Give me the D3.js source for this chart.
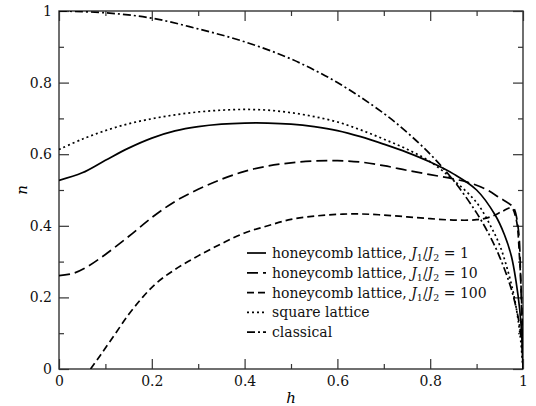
<!DOCTYPE html>
<html>
<head>
<meta charset="utf-8">
<script src="https://cdn.jsdelivr.net/npm/d3@7"></script>
<style>
  body { margin: 0; background: #fff; }
  svg { display: block; }
</style>
</head>
<body>
<div id="chart"></div>
<script>
// Curves, as [h, n] pairs.
var honeyJ1 = [[0,0.527],[0.05,0.548],[0.1,0.583],[0.15,0.617],[0.2,0.645],[0.25,0.665],
    [0.3,0.677],[0.35,0.684],[0.4,0.687],[0.45,0.687],[0.5,0.684],[0.55,0.677],[0.6,0.666],
    [0.65,0.649],[0.7,0.628],[0.75,0.605],[0.8,0.578],[0.85,0.545],[0.9,0.5],[0.94,0.43],
    [0.96,0.375],[0.975,0.315],[0.985,0.245],[0.993,0.165],[0.998,0.08],[1,0]];

var honeyJ10 = [[0,0.261],[0.03,0.267],[0.06,0.285],[0.1,0.32],[0.15,0.37],[0.2,0.423],
    [0.25,0.468],[0.3,0.502],[0.35,0.53],[0.4,0.552],[0.45,0.567],[0.5,0.576],[0.55,0.581],
    [0.6,0.582],[0.65,0.578],[0.7,0.568],[0.75,0.555],[0.8,0.543],[0.85,0.531],[0.88,0.522],
    [0.92,0.502],[0.95,0.478],[0.97,0.462],[0.98,0.45],[0.99,0.39],[0.995,0.25],[1,0]];

var honeyJ100 = [[0.068,0],[0.09,0.04],[0.12,0.096],[0.15,0.152],[0.18,0.2],[0.21,0.24],
    [0.25,0.278],[0.3,0.316],[0.35,0.35],[0.4,0.38],[0.45,0.4],[0.5,0.418],[0.55,0.427],
    [0.6,0.432],[0.65,0.433],[0.7,0.43],[0.75,0.425],[0.8,0.42],[0.85,0.416],[0.9,0.417],
    [0.93,0.425],[0.955,0.44],[0.975,0.45],[0.985,0.42],[0.993,0.3],[0.998,0.15],[1,0]];

var squareLattice = [[0,0.613],[0.05,0.642],[0.1,0.666],[0.15,0.685],[0.2,0.699],[0.25,0.71],
    [0.3,0.718],[0.35,0.723],[0.4,0.725],[0.45,0.723],[0.5,0.716],[0.55,0.705],[0.6,0.69],
    [0.65,0.668],[0.7,0.642],[0.75,0.614],[0.8,0.579],[0.85,0.528],[0.9,0.465],[0.93,0.4],
    [0.95,0.345],[0.965,0.285],[0.978,0.22],[0.988,0.15],[0.995,0.08],[1,0]];

var classical = [[0,1],[0.1,0.995],[0.2,0.98],[0.3,0.95],[0.4,0.914],[0.5,0.866],[0.6,0.8],
    [0.7,0.714],[0.75,0.661],[0.8,0.6],[0.85,0.527],[0.9,0.436],[0.93,0.368],[0.95,0.312],
    [0.97,0.243],[0.98,0.199],[0.99,0.141],[0.997,0.077],[1,0]];

var majorTicks = [0, 0.2, 0.4, 0.6, 0.8, 1];
var minorTicks = [0.1, 0.3, 0.5, 0.7, 0.9];
var tickLabels = ["0", "0.2", "0.4", "0.6", "0.8", "1"];

// Ratio values shown in the first three legend rows.
var legendRatios = ["1", "10", "100"];

var serif = "'DejaVu Serif', 'Liberation Serif', serif";

var width = 536, height = 406;
var margin = {top: 11, right: 13, bottom: 37, left: 59};

var svg = d3.select("#chart").append("svg")
    .attr("width", width)
    .attr("height", height)
    .attr("font-family", serif);

var x = d3.scaleLinear().domain([0, 1]).range([margin.left, width - margin.right]);
var y = d3.scaleLinear().domain([0, 1]).range([height - margin.bottom, margin.top]);

var fmt = function(d){ return tickLabels[majorTicks.indexOf(d)]; };

// Frame and axes with ticks pointing inward on all four sides.
function axisGroup(axis, tx, ty, labels){
    var g = svg.append("g")
        .attr("transform", "translate(" + tx + "," + ty + ")")
        .call(axis)
        .attr("font-family", serif)
        .attr("font-size", 14);
    g.select(".domain").remove();
    g.selectAll("line").attr("stroke", "#333").attr("stroke-width", 1.2);
    if (!labels) g.selectAll("text").remove();
    else g.selectAll("text").attr("fill", "#111");
    return g;
}

var bottom = height - margin.bottom, right = width - margin.right;

axisGroup(d3.axisBottom(x).tickValues(majorTicks).tickSize(-10).tickPadding(7).tickFormat(fmt), 0, bottom, true);
axisGroup(d3.axisBottom(x).tickValues(minorTicks).tickSize(-5), 0, bottom, false);
axisGroup(d3.axisTop(x).tickValues(majorTicks).tickSize(-10), 0, margin.top, false);
axisGroup(d3.axisTop(x).tickValues(minorTicks).tickSize(-5), 0, margin.top, false);

axisGroup(d3.axisLeft(y).tickValues(majorTicks).tickSize(-10).tickPadding(7).tickFormat(fmt), margin.left, 0, true);
axisGroup(d3.axisLeft(y).tickValues(minorTicks).tickSize(-5), margin.left, 0, false);
axisGroup(d3.axisRight(y).tickValues(majorTicks).tickSize(-10), right, 0, false);
axisGroup(d3.axisRight(y).tickValues(minorTicks).tickSize(-5), right, 0, false);

svg.append("rect")
    .attr("x", margin.left)
    .attr("y", margin.top)
    .attr("width", right - margin.left)
    .attr("height", bottom - margin.top)
    .attr("fill", "none")
    .attr("stroke", "#333")
    .attr("stroke-width", 1.4);

// Axis titles.
svg.append("text")
    .attr("x", x(0.5))
    .attr("y", 403)
    .attr("text-anchor", "middle")
    .attr("font-size", 15)
    .attr("font-style", "italic")
    .text("h");

svg.append("text")
    .attr("transform", "translate(27," + y(0.5) + ") rotate(-90)")
    .attr("text-anchor", "middle")
    .attr("font-size", 15)
    .attr("font-style", "italic")
    .text("n");

// Curves.
var series = [
    {data: honeyJ1, dash: null},
    {data: honeyJ10, dash: "11,5"},
    {data: honeyJ100, dash: "7,4"},
    {data: squareLattice, dash: "2,3"},
    {data: classical, dash: "8,3,2,3"}
];

var line = d3.line()
    .x(function(d){ return x(d[0]); })
    .y(function(d){ return y(d[1]); })
    .curve(d3.curveCatmullRom.alpha(0.5));

svg.append("defs").append("clipPath").attr("id", "plot")
    .append("rect")
    .attr("x", margin.left).attr("y", margin.top)
    .attr("width", right - margin.left).attr("height", bottom - margin.top);

svg.append("g").attr("clip-path", "url(#plot)")
    .selectAll("path")
    .data(series)
    .enter()
    .append("path")
    .attr("d", function(s){ return line(s.data); })
    .attr("fill", "none")
    .attr("stroke", "#000")
    .attr("stroke-width", 1.7)
    .attr("stroke-dasharray", function(s){ return s.dash; });

// Legend.
var legendX = 247, legendY = 253, rowH = 19.8;
var legend = svg.append("g").attr("font-size", 14);

series.forEach(function(s, i){
    var yy = legendY + i * rowH;
    legend.append("line")
        .attr("x1", legendX).attr("x2", legendX + 19)
        .attr("y1", yy).attr("y2", yy)
        .attr("stroke", "#000")
        .attr("stroke-width", 1.7)
        .attr("stroke-dasharray", s.dash);

    var t = legend.append("text")
        .attr("x", legendX + 25)
        .attr("y", yy + 5)
        .attr("fill", "#111");

    if (i < 3){
        t.append("tspan").text("honeycomb lattice, ");
        t.append("tspan").attr("font-style", "italic").text("J");
        t.append("tspan").attr("dy", 3).attr("font-size", 9.5).text("1");
        t.append("tspan").attr("dy", -3).text("/");
        t.append("tspan").attr("font-style", "italic").text("J");
        t.append("tspan").attr("dy", 3).attr("font-size", 9.5).text("2");
        t.append("tspan").attr("dy", -3).text(" = " + legendRatios[i]);
    } else if (i === 3){
        t.text("square lattice");
    } else {
        t.text("classical");
    }
});
</script>
</body>
</html>
